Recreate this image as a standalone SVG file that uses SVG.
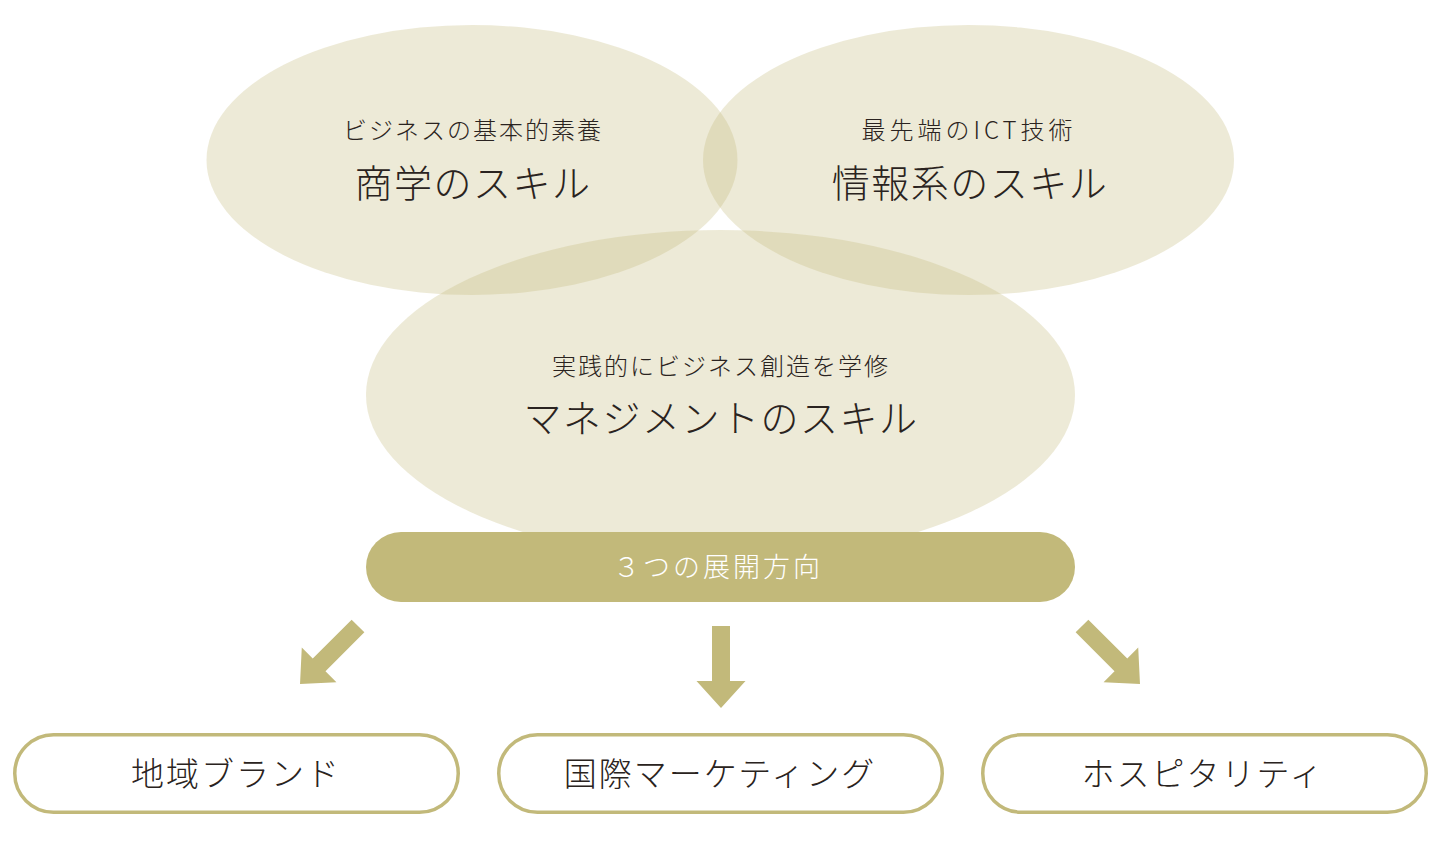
<svg xmlns="http://www.w3.org/2000/svg" width="1443" height="846" viewBox="0 0 1443 846">
<style>
.circ{fill:#c2b97a;fill-opacity:0.3}
.t{font-family:"Noto Sans CJK JP","Noto Sans",sans-serif;fill:#2a2320;text-anchor:middle;font-weight:300}
.s{font-size:24px;letter-spacing:2px}
.l{font-size:38px;letter-spacing:1.5px}
.b{font-size:33px;letter-spacing:2px}
.box{fill:#ffffff;stroke:#c2b97a;stroke-width:3.5}
.arr{fill:#c2b97a}
</style>
<defs>
<path id="arrow" d="M-9,0 L9,0 L9,55 L24.5,55 L0,82 L-24.5,55 L-9,55 Z"/>
</defs>
<g id="node-commerce">
<ellipse class="circ" cx="472" cy="160" rx="265.5" ry="135"/>
<text class="t s" x="473" y="139">ビジネスの基本的素養</text>
<text class="t l" x="473" y="197">商学のスキル</text>
</g>
<g id="node-info">
<ellipse class="circ" cx="968.5" cy="160" rx="265.5" ry="135"/>
<text class="t s" x="969" y="139" style="letter-spacing:4px">最先端のICT技術</text>
<text class="t l" x="970" y="197">情報系のスキル</text>
</g>
<g id="node-management">
<ellipse class="circ" cx="720.5" cy="395" rx="354.5" ry="165"/>
<text class="t s" x="721" y="375">実践的にビジネス創造を学修</text>
<text class="t l" x="721" y="432">マネジメントのスキル</text>
</g>
<g id="node-direction">
<rect x="366" y="532" width="709" height="70" rx="35" fill="#c2b97a"/>
<text class="t" x="718" y="577" font-size="27" letter-spacing="3" style="fill:#ffffff">３つの展開方向</text>
</g>
<g id="connectors">
<use href="#arrow" class="arr" transform="translate(358,626) rotate(45)"/>
<use href="#arrow" class="arr" transform="translate(721,626)"/>
<use href="#arrow" class="arr" transform="translate(1082,626) rotate(-45)"/>
</g>
<g id="node-regional">
<rect class="box" x="14.75" y="734.75" width="443.5" height="77.5" rx="38.75"/>
<text class="t b" x="236" y="786">地域ブランド</text>
</g>
<g id="node-international">
<rect class="box" x="498.75" y="734.75" width="443.5" height="77.5" rx="38.75"/>
<text class="t b" x="720" y="786">国際マーケティング</text>
</g>
<g id="node-hospitality">
<rect class="box" x="982.75" y="734.75" width="443.5" height="77.5" rx="38.75"/>
<text class="t b" x="1203" y="786">ホスピタリティ</text>
</g>
</svg>
